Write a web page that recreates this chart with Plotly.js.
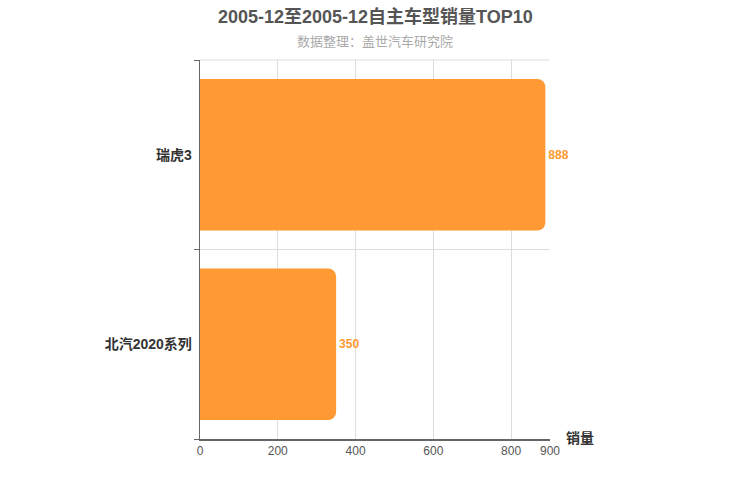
<!DOCTYPE html>
<html>
<head>
<meta charset="utf-8">
<script src="https://cdn.plot.ly/plotly-3.0.1.min.js"></script>
<style>
  html, body { margin: 0; padding: 0; background: #fff; }
  #chart { width: 750px; height: 500px; }
</style>
</head>
<body>
<div id="chart"></div>
<script>
// ── Data (bottom → top, as Plotly stacks categories upward) ──────────────────
const models = ['北汽2020系列', '瑞虎3'];
const sales  = [350, 888];
const xTicks = [0, 200, 400, 600, 800, 900];

const FONT = '"Liberation Sans", Arial, "Noto Sans CJK SC", sans-serif';
const ORANGE = '#ff9933';

const trace = {
  type: 'bar',
  orientation: 'h',
  y: models,
  x: sales,
  text: sales.map(String),
  textposition: 'outside',
  cliponaxis: false,
  textfont: { family: FONT, size: 12, color: ORANGE, weight: 'bold' },
  marker: { color: ORANGE, cornerradius: 8 },
  hoverinfo: 'x+y',
};

const layout = {
  width: 750,
  height: 500,
  paper_bgcolor: '#fff',
  plot_bgcolor: '#fff',
  font: { family: FONT, color: '#333' },
  margin: { l: 200, r: 200, t: 60, b: 61 },
  bargap: 0.2,
  showlegend: false,
  xaxis: {
    range: [0, 900],
    tickvals: xTicks,
    ticktext: xTicks.map(String),
    showgrid: true,
    gridcolor: '#dddddd',
    zeroline: false,
    showline: true,
    linecolor: '#666',
    linewidth: 1.5,
    ticks: '',
    tickfont: { size: 12, color: '#555' },
    fixedrange: true,
  },
  yaxis: {
    type: 'category',
    tickson: 'boundaries',
    ticks: 'outside',
    ticklen: 5,
    tickcolor: '#666',
    showgrid: true,
    gridcolor: '#dddddd',
    showline: true,
    linecolor: '#666',
    linewidth: 1.5,
    tickfont: { size: 14, color: '#333', weight: 'bold' },
    ticksuffix: ' ',
    fixedrange: true,
  },
  // top grid line along the plot edge (Plotly skips the boundary grid there)
  shapes: [{
    type: 'line', xref: 'paper', yref: 'paper',
    x0: 0, x1: 1, y0: 1, y1: 1,
    line: { color: '#dddddd', width: 1 },
    layer: 'below',
  }],
  annotations: [
    {
      xref: 'paper', yref: 'paper', x: 0.5, y: 1,
      yshift: 44, xanchor: 'center', yanchor: 'middle',
      text: '<b>2005-12至2005-12自主车型销量TOP10</b>',
      showarrow: false,
      font: { size: 18, color: '#555' },
    },
    {
      xref: 'paper', yref: 'paper', x: 0.5, y: 1,
      yshift: 19, xanchor: 'center', yanchor: 'middle',
      text: '数据整理：盖世汽车研究院',
      showarrow: false,
      font: { size: 13, color: '#aaa' },
    },
    {
      xref: 'paper', yref: 'paper', x: 1, y: 0,
      xshift: 14, yshift: 1, xanchor: 'left', yanchor: 'middle',
      text: '<b>销量</b>',
      showarrow: false,
      font: { size: 14, color: '#333' },
    },
  ],
};

Plotly.newPlot('chart', [trace], layout, { displayModeBar: false, staticPlot: true });
</script>
</body>
</html>
